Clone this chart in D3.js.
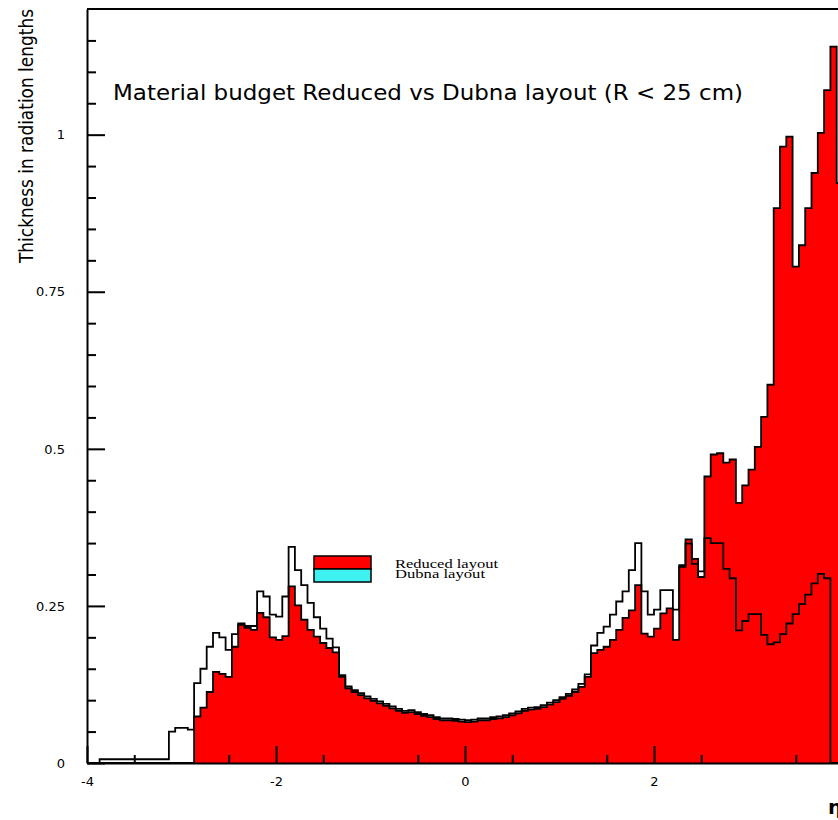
<!DOCTYPE html>
<html>
<head>
<meta charset="utf-8">
<script src="https://cdn.jsdelivr.net/npm/d3@7"></script>
<style>
  body { margin: 0; background: #fff; }
  svg { display: block; }
  .tick text { font-family: "DejaVu Sans", sans-serif; font-size: 13px; fill: #000; }
</style>
</head>
<body>
<svg class="budget" width="838" height="820"></svg>
<script>
// eta binning of the two histograms
const etaMin = -4;
const etaMax = 4;
const nBins = 120;

// thickness in radiation lengths, one value per bin
const reduced = [
    0, 0, 0, 0, 0, 0, 0, 0, 0, 0,
    0, 0, 0, 0, 0, 0, 0, 0.074, 0.088, 0.113,
    0.145, 0.142, 0.137, 0.185, 0.220, 0.215, 0.212, 0.239, 0.232, 0.200,
    0.196, 0.202, 0.281, 0.251, 0.228, 0.212, 0.201, 0.191, 0.183, 0.176,
    0.137, 0.119, 0.113, 0.108, 0.103, 0.099, 0.095, 0.091, 0.087, 0.083,
    0.080, 0.081, 0.078, 0.075, 0.073, 0.070, 0.068, 0.068, 0.067, 0.066,
    0.065, 0.066, 0.068, 0.068, 0.070, 0.071, 0.073, 0.076, 0.079, 0.083,
    0.085, 0.086, 0.089, 0.093, 0.097, 0.102, 0.107, 0.113, 0.121, 0.137,
    0.175, 0.180, 0.185, 0.196, 0.212, 0.231, 0.243, 0.283, 0.206, 0.201,
    0.214, 0.238, 0.246, 0.196, 0.312, 0.356, 0.325, 0.296, 0.456, 0.491,
    0.493, 0.478, 0.483, 0.414, 0.442, 0.467, 0.503, 0.551, 0.602, 0.883,
    0.981, 0.997, 0.790, 0.824, 0.883, 0.939, 1.003, 1.071, 1.140, 0.923
];

const dubna = [
    0, 0, 0.006, 0.006, 0.006, 0.006, 0.006, 0.006, 0.006, 0.006,
    0.006, 0.006, 0.006, 0.050, 0.056, 0.056, 0.053, 0.127, 0.150, 0.185,
    0.207, 0.200, 0.180, 0.205, 0.222, 0.218, 0.218, 0.273, 0.265, 0.236,
    0.233, 0.265, 0.344, 0.307, 0.283, 0.255, 0.232, 0.214, 0.198, 0.184,
    0.140, 0.122, 0.116, 0.111, 0.106, 0.102, 0.098, 0.094, 0.090, 0.086,
    0.083, 0.084, 0.081, 0.078, 0.076, 0.073, 0.071, 0.071, 0.070, 0.069,
    0.068, 0.069, 0.071, 0.071, 0.073, 0.074, 0.076, 0.079, 0.082, 0.086,
    0.088, 0.089, 0.092, 0.096, 0.100, 0.105, 0.110, 0.117, 0.126, 0.141,
    0.187, 0.207, 0.217, 0.236, 0.257, 0.273, 0.307, 0.350, 0.273, 0.236,
    0.244, 0.275, 0.275, 0.244, 0.315, 0.349, 0.317, 0.305, 0.358, 0.350,
    0.350, 0.309, 0.294, 0.211, 0.226, 0.237, 0.237, 0.204, 0.189, 0.192,
    0.205, 0.222, 0.237, 0.253, 0.268, 0.286, 0.301, 0.294, 0, 0
];

const xTicks = [-4, -2, 0, 2, 4];
const yTicks = [0, 0.25, 0.5, 0.75, 1];
const yTickLabels = ['0', '0.25', '0.5', '0.75', '1'];
const legendLabels = ['Reduced layout', 'Dubna layout'];
const legendColors = ['#ff0000', '#3ff0f0'];
const title = 'Material budget Reduced vs Dubna layout (R < 25 cm)';
const yTitle = 'Thickness in radiation lengths';
const xTitle = 'η';

const svg = d3.select('svg.budget');

const margin = { top: 9, left: 87, bottom: 57 };
const height = 820;

const x = d3.scaleLinear()
    .domain([etaMin, etaMax])
    .range([margin.left, 843]);

const y = d3.scaleLinear()
    .domain([0, 1.2])
    .range([height - margin.bottom, margin.top]);

const binWidth = (etaMax - etaMin) / nBins;

// outline of a histogram as a list of [eta, value] corners
const stepPoints = values => {
    const pts = [[etaMin, 0]];
    values.forEach((v, i) => {
        const e0 = etaMin + i * binWidth;
        pts.push([e0, v], [e0 + binWidth, v]);
    });
    pts.push([etaMax, 0]);
    return pts;
};

const stepLine = d3.line()
    .x(d => x(d[0]))
    .y(d => y(d[1]));

// reduced layout: filled red
svg.append('path')
    .attr('d', stepLine(stepPoints(reduced)))
    .attr('fill', legendColors[0])
    .attr('stroke', '#000')
    .attr('stroke-width', 1.8)
    .attr('stroke-linejoin', 'miter');

// dubna layout: outline only
svg.append('path')
    .attr('d', stepLine(stepPoints(dubna)))
    .attr('fill', 'none')
    .attr('stroke', '#000')
    .attr('stroke-width', 1.8);

// axes, ticks point into the frame
const yAxis = svg.append('g')
    .attr('transform', `translate(${margin.left},0)`)
    .call(d3.axisLeft(y)
        .tickValues(yTicks)
        .tickFormat((d, i) => yTickLabels[i])
        .tickSizeInner(-18)
        .tickSizeOuter(0)
        .tickPadding(22));

svg.append('g')
    .attr('transform', `translate(${margin.left},0)`)
    .call(d3.axisLeft(y)
        .tickValues(d3.range(0.05, 1.2, 0.05).filter(v => Math.abs(v / 0.25 - Math.round(v / 0.25)) > 0.01))
        .tickFormat('')
        .tickSizeInner(-9)
        .tickSizeOuter(0))
    .select('.domain').remove();

svg.append('g')
    .attr('transform', `translate(0,${y(0)})`)
    .call(d3.axisBottom(x)
        .tickValues(xTicks)
        .tickFormat(d => String(d))
        .tickSizeInner(-17)
        .tickSizeOuter(0)
        .tickPadding(14));

svg.append('g')
    .attr('transform', `translate(0,${y(0)})`)
    .call(d3.axisBottom(x)
        .tickValues(d3.range(-3.5, 4, 1))
        .tickFormat('')
        .tickSizeInner(-8)
        .tickSizeOuter(0))
    .select('.domain').remove();

svg.selectAll('.domain, .tick line')
    .attr('stroke', '#000')
    .attr('stroke-width', 2);

// top of the frame
svg.append('line')
    .attr('x1', margin.left).attr('x2', 843)
    .attr('y1', y(1.2)).attr('y2', y(1.2))
    .attr('stroke', '#000')
    .attr('stroke-width', 2);

svg.append('text')
    .attr('x', 113)
    .attr('y', 100)
    .attr('textLength', 630)
    .attr('lengthAdjust', 'spacingAndGlyphs')
    .style('font-family', '"DejaVu Sans", sans-serif')
    .style('font-size', '22px')
    .text(title);

svg.append('text')
    .attr('transform', 'translate(33,263) rotate(-90)')
    .attr('textLength', 254)
    .attr('lengthAdjust', 'spacingAndGlyphs')
    .style('font-family', '"DejaVu Sans", sans-serif')
    .style('font-size', '20px')
    .text(yTitle);

svg.append('text')
    .attr('x', 828)
    .attr('y', 814)
    .style('font-family', '"DejaVu Sans", sans-serif')
    .style('font-size', '20px')
    .style('font-weight', 'bold')
    .text(xTitle);

// legend
const legend = svg.append('g').attr('transform', 'translate(314,556)');

legend.selectAll('rect').data(legendColors)
    .enter().append('rect')
    .attr('x', 0)
    .attr('y', (d, i) => i * 13)
    .attr('width', 57)
    .attr('height', 13)
    .attr('fill', d => d)
    .attr('stroke', '#000')
    .attr('stroke-width', 1.5);

legend.selectAll('text').data(legendLabels)
    .enter().append('text')
    .attr('x', 81)
    .attr('y', (d, i) => 12 + i * 10)
    .attr('textLength', (d, i) => i === 0 ? 103 : 90)
    .attr('lengthAdjust', 'spacingAndGlyphs')
    .style('font-family', '"Liberation Serif", serif')
    .style('font-size', '13px')
    .text(d => d);
</script>
</body>
</html>
